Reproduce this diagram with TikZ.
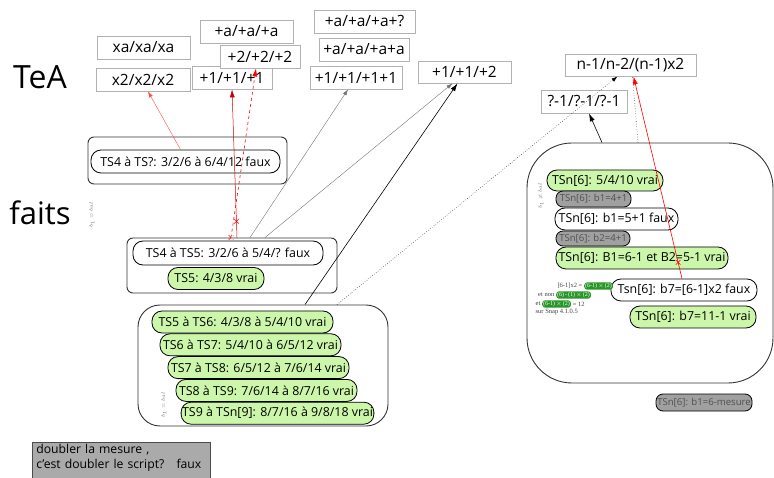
\documentclass[tikz,border=0pt]{standalone}
\usepackage{fontspec}
\setmainfont{Open Sans}
\newfontfamily\snapfont{Liberation Serif}
\usepackage{xcolor}
\usepackage{tikz}
\usetikzlibrary{arrows.meta,positioning,calc,shapes.misc}

\definecolor{vert}{RGB}{204,247,170}
\definecolor{grispill}{RGB}{160,160,160}
\definecolor{gristexte}{RGB}{80,80,80}
\definecolor{grisboite}{RGB}{170,170,170}
\definecolor{vertsnap}{RGB}{40,150,40}

\begin{document}
\begin{tikzpicture}[
        x=1pt, y=-1pt,
        node distance=0pt,
        >=Latex,
        formule/.style={
            draw=black!30,
            line width=0.8pt,
            fill=white,
            font=\fontsize{15.5}{17}\selectfont,
            minimum height=23,
            inner sep=1pt
        },
        cadre/.style={
            draw=black!80,
            line width=0.9pt,
            rounded corners=6
        },
        pill/.style={
            draw,
            line width=0.8pt,
            rounded corners=10,
            fill=white,
            font=\fontsize{12.4}{14}\selectfont,
            minimum height=22,
            inner sep=1pt
        },
        vrai/.style={pill, fill=vert},
        gris/.style={
            pill,
            fill=grispill,
            text=gristexte,
            rounded corners=7,
            font=\fontsize{9.6}{11}\selectfont,
            minimum height=16
        },
        petit/.style={font=\fontsize{5.5}{6}\snapfont\selectfont, text=black!60, inner sep=0pt},
        snaptxt/.style={font=\fontsize{6.5}{7}\snapfont\selectfont, text=black!75, inner sep=0.5pt},
        snapbloc/.style={
            fill=vertsnap,
            text=white,
            rounded corners=3,
            font=\fontsize{6}{7}\snapfont\selectfont,
            inner sep=1pt
        },
        croix/.style={draw=red, cross out, minimum size=4, inner sep=0pt, line width=0.6pt},
        fleche/.style={-{Latex[length=8pt,width=5pt]}, line width=0.6pt},
        flechefine/.style={-{Latex[length=6pt,width=4pt]}, line width=0.4pt}
    ]

    \useasboundingbox (0,0) rectangle (774,478);

    % titres
    \node[font=\fontsize{32}{36}\selectfont] (tea) at (40,77) {TeA};
    \node[font=\fontsize{31}{36}\selectfont] (faits) at (40,213) {faits};

    % formules du haut
    \node[formule, minimum width=93] (xaxaxa) at (143.5,47.5) {xa/xa/xa};
    \node[formule, minimum width=94] (xdeux) at (143,79.5) {x2/x2/x2};
    \node[formule, minimum width=93] (plusa) at (246.5,31.5) {+a/+a/+a};
    \node[formule, minimum width=80] (plusun) at (232,77.5) {+1/+1/+1};
    \node[formule, minimum width=80] (plusdeux) at (260,56.5) {+2/+2/+2};
    \node[formule, minimum width=101] (plusaq) at (364.5,21.5) {+a/+a/+a+?};
    \node[formule, minimum width=90] (plusaa) at (364,49.5) {+a/+a/+a+a};
    \node[formule, minimum width=92] (plusunun) at (356,77.5) {+1/+1/+1+1};
    \node[formule, minimum width=93, minimum height=22] (plusunb) at (464.5,72) {+1/+1/+2};
    \node[formule, minimum width=131, minimum height=22] (nmoins) at (630.5,65) {n-1/n-2/(n-1)x2};
    \node[formule, minimum width=86] (qmoins) at (584,101.5) {?-1/?-1/?-1};

    % cadres
    \node[cadre, minimum width=199, minimum height=47] (cadreA) at (187.5,160.5) {};
    \node[cadre, minimum width=210, minimum height=55] (cadreB) at (232,265.5) {};
    \node[cadre, rounded corners=22, minimum width=250, minimum height=121] (cadreC) at (263,365.5) {};
    \node[cadre, rounded corners=45, minimum width=246, minimum height=240] (cadreD) at (650,263) {};

    % essais TS4
    \node[pill, minimum width=189, minimum height=23] (tsq) at (185.5,161.5) {TS4 à TS?: 3/2/6 à 6/4/12 faux};
    \node[pill, minimum width=190, minimum height=24] (tscinq) at (228,253) {TS4 à TS5: 3/2/6 à 5/4/? faux};
    \node[vrai, minimum width=96] (tsv) at (216,278.5) {TS5: 4/3/8 vrai};

    % suite TS5 .. TS9
    \node[vrai, minimum width=181] (tssix) at (242.5,322) {TS5 à TS6: 4/3/8 à 5/4/10 vrai};
    \node[vrai, minimum width=181, below=0pt of tssix, xshift=8] (tssept) {TS6 à TS7: 5/4/10 à 6/5/12 vrai};
    \node[vrai, minimum width=181, below=0pt of tssept, xshift=8] (tshuit) {TS7 à TS8: 6/5/12 à 7/6/14 vrai};
    \node[vrai, minimum width=181, below=0pt of tshuit, xshift=8] (tsneuf) {TS8 à TS9: 7/6/14 à 8/7/16 vrai};
    \node[vrai, minimum width=188, below=0pt of tsneuf, xshift=11] (tsn) {TS9 à TSn[9]: 8/7/16 à 9/8/18 vrai};

    % TSn[6]
    \node[vrai, minimum width=116, minimum height=21] (tsnv) at (605,180.5) {TSn[6]: 5/4/10 vrai};
    \node[gris, minimum width=75] (bungris) at (593.5,199) {TSn[6]: b1=4+1};
    \node[pill, minimum width=123] (bunfaux) at (616.5,219) {TSn[6]: b1=5+1 faux};
    \node[gris, minimum width=74, minimum height=15] (bdeuxgris) at (593,238.5) {TSn[6]: b2=4+1};
    \node[vrai, minimum width=172] (bdeuxv) at (642,258) {TSn[6]: B1=6-1 et B2=5-1 vrai};
    \node[pill, minimum width=146] (bseptfaux) at (684,290) {Tsn[6]: b7=[6-1]x2 faux};
    \node[vrai, minimum width=126] (bseptv) at (693,317) {TSn[6]: b7=11-1 vrai};
    \node[gris, minimum width=96, minimum height=17] (mesure) at (704,402.5) {TSn[6]: b1=6-mesure};

    % notes en petit
    \node[petit, rotate=90] (notea) at (92,215) {$b_1=bal$};
    \node[petit, rotate=90] (noteb) at (164,405) {$b_1=bal$};
    \node[petit, rotate=90] (notec) at (541,196) {$b_1\neq bal$};

    % Snap
    \node[snaptxt, anchor=east] (snapa) at (583,286) {[6-1]x2 =};
    \node[snapbloc, right=1pt of snapa] (snapab) {(6-1)\,$\times$\,(2)};
    \node[snaptxt, anchor=east] (snapb) at (555,295) {et non};
    \node[snapbloc, right=1pt of snapb] (snapbb) {(6)\,-\,(1)\,$\times$\,(2)};
    \node[snaptxt, anchor=east] (snapc) at (541,304) {et};
    \node[snapbloc, right=1pt of snapc] (snapcb) {(6-1)\,$\times$\,(2)};
    \node[snaptxt, right=1pt of snapcb] (snapcc) {= 12};
    \node[snaptxt, anchor=west] (snapd) at (535,312) {sur Snap 4.1.0.5};

    % question du bas
    \node[draw=black!70, line width=0.8pt, fill=grisboite, anchor=north west,
          text width=170, align=left, inner xsep=4, inner ysep=2,
          text depth=30,
          font=\fontsize{12.2}{15}\selectfont] (question) at (32,442)
          {doubler la mesure ,\\c'est doubler le script?\ \ \ faux};

    % liens
    \draw[flechefine, red!70] ([xshift=-5]tsq.north) -- ([xshift=5]xdeux.south);
    \draw[fleche, red!80!black, line width=0.5pt] ([xshift=5]cadreB.north) -- (plusun.south)
        node[croix, pos=0.11] (croixa) {};
    \draw[fleche, red, dashed] ([xshift=-1]cadreB.north) -- ([xshift=-4]plusdeux.south)
        node[croix, pos=0] (croixb) {};
    \draw[flechefine, black!55] ([xshift=18]cadreB.north) -- ([xshift=-8]plusunun.south);
    \draw[flechefine, black!55] ([xshift=33]cadreB.north) -- ([xshift=-12]plusunb.south);
    \draw[fleche] ([xshift=42]cadreC.north) -- ([xshift=-7]plusunb.south);
    \draw[flechefine, dotted, black, line width=0.6pt] ([xshift=74]cadreC.north) -- ([xshift=-13]nmoins.south);
    \draw[fleche] ([xshift=-48]cadreD.north) -- ([xshift=5]qmoins.south);
    \draw[dotted, black!70, line width=0.6pt] ([xshift=-12]cadreD.north) -- ([xshift=2]nmoins.south);
    \draw[fleche, red] ([xshift=-2]bseptfaux.north) -- ([xshift=3]nmoins.south)
        node[croix, pos=0.08] (croixc) {};

\end{tikzpicture}
\end{document}
